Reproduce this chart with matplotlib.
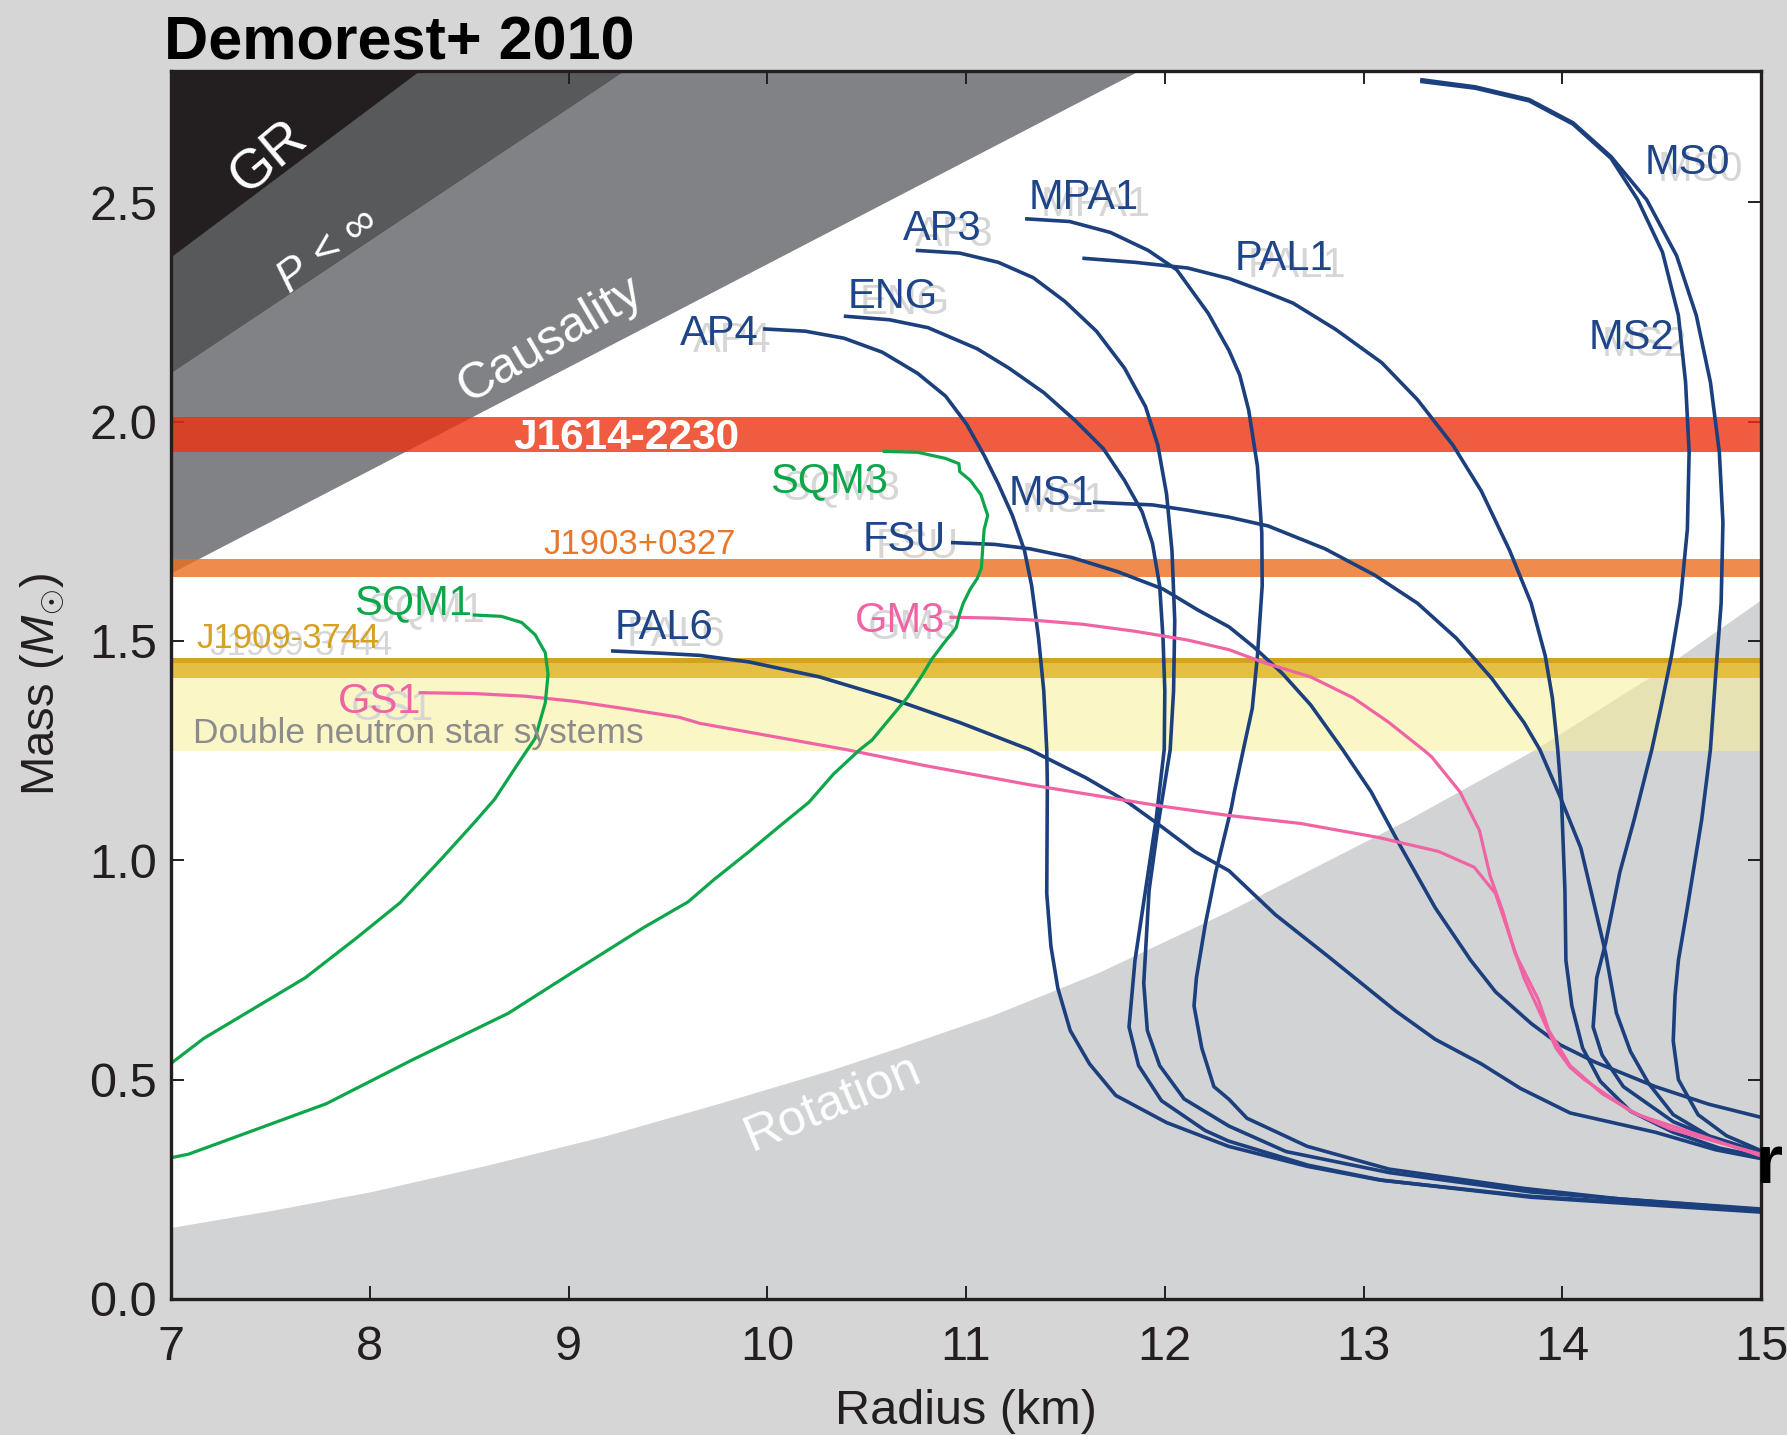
#!/usr/bin/env python3
"""
Mass-radius diagram (Demorest+ 2010) redrawn with matplotlib.

Usage:
  python3 plot.py   ->  out.png
"""

import matplotlib
matplotlib.use("Agg")
import matplotlib.pyplot as plt
from matplotlib import font_manager


# ── data: constraint regions ────────────────────────────────────────────────

GR_R = [7.0, 8.25]
GR_M = [2.376, 2.80]
BUCH_R = [7.0, 9.28]
BUCH_M = [2.112, 2.80]
CAUS_R = [7.0, 11.87]
CAUS_M = [1.655, 2.80]

ROT_R = [7.0, 7.52, 8.01, 8.59, 9.17, 9.75, 10.32, 10.66, 11.14, 11.67,
         12.32, 12.77, 13.22, 13.86, 14.47, 15.0]
ROT_M = [0.163, 0.203, 0.245, 0.305, 0.370, 0.445, 0.522, 0.573, 0.648, 0.745,
         0.884, 0.988, 1.092, 1.252, 1.426, 1.594]

# pulsar mass bands (lo, hi)
J1614_M = [1.931, 2.010]
J1903_M = [1.646, 1.687]
J1909_M = [1.416, 1.461]
J1909_EDGE_M = [1.450, 1.461]
DNS_M = [1.249, 1.416]

# ── data: mass-radius curves ────────────────────────────────────────────────

AP4_R = [9.988, 10.191, 10.386, 10.579, 10.756, 10.897, 11.003, 11.092, 11.162,
         11.233, 11.294, 11.330, 11.365, 11.391, 11.406, 11.409, 11.406, 11.427,
         11.462, 11.524, 11.621, 11.753, 12.009, 12.32, 12.72, 13.07, 13.84, 15.0]
AP4_M = [2.211, 2.206, 2.190, 2.158, 2.110, 2.058, 1.994, 1.922, 1.858,
         1.786, 1.706, 1.626, 1.506, 1.386, 1.252, 1.172, 0.924, 0.804,
         0.708, 0.612, 0.536, 0.464, 0.402, 0.348, 0.302, 0.272, 0.232, 0.198]

ENG_R = [10.394, 10.615, 10.809, 11.056, 11.215, 11.391, 11.550, 11.691, 11.797,
         11.886, 11.938, 11.974, 11.991, 12.000, 11.997, 11.956, 11.903, 11.850,
         11.820, 11.868, 11.983, 12.203, 12.32, 12.72, 13.1, 13.84, 15.0]
ENG_M = [2.240, 2.232, 2.214, 2.166, 2.122, 2.066, 2.002, 1.938, 1.866,
         1.794, 1.722, 1.626, 1.506, 1.386, 1.252, 1.092, 0.932, 0.772,
         0.620, 0.532, 0.452, 0.384, 0.360, 0.305, 0.270, 0.234, 0.201]

AP3_R = [10.756, 10.968, 11.162, 11.338, 11.497, 11.656, 11.797, 11.903, 11.965,
         12.009, 12.036, 12.050, 12.044, 12.027, 11.970, 11.921, 11.894, 11.912,
         11.974, 12.097, 12.323, 12.61, 13.13, 13.84, 15.0]
AP3_M = [2.390, 2.384, 2.363, 2.328, 2.274, 2.206, 2.122, 2.034, 1.946,
         1.834, 1.706, 1.546, 1.386, 1.252, 1.092, 0.932, 0.720, 0.612,
         0.532, 0.456, 0.394, 0.336, 0.288, 0.244, 0.203]

MPA1_R = [11.306, 11.521, 11.727, 11.917, 12.060, 12.218, 12.323, 12.377, 12.422,
          12.466, 12.488, 12.490, 12.466, 12.440, 12.395, 12.350, 12.335, 12.256,
          12.203, 12.159, 12.147, 12.186, 12.247, 12.323, 12.413, 12.716, 13.128,
          13.807, 14.289, 15.0]
MPA1_M = [2.462, 2.456, 2.431, 2.390, 2.346, 2.247, 2.162, 2.106, 2.026,
          1.898, 1.746, 1.626, 1.466, 1.346, 1.252, 1.156, 1.120, 0.972,
          0.852, 0.732, 0.668, 0.572, 0.484, 0.455, 0.412, 0.348, 0.296,
          0.252, 0.228, 0.205]

PAL1_R = [11.594, 11.850, 12.115, 12.323, 12.395, 12.502, 12.645, 12.860, 13.092,
          13.271, 13.450, 13.592, 13.735, 13.843, 13.914, 13.950, 13.977, 13.995,
          14.013, 14.018, 14.048, 14.102, 14.191, 14.343, 14.557, 14.790, 15.0]
PAL1_M = [2.372, 2.363, 2.350, 2.326, 2.314, 2.296, 2.270, 2.210, 2.134,
          2.050, 1.946, 1.842, 1.706, 1.586, 1.466, 1.370, 1.252, 1.148,
          0.932, 0.772, 0.668, 0.572, 0.496, 0.428, 0.380, 0.344, 0.324]

MS0_R = [13.294, 13.561, 13.833, 14.054, 14.245, 14.424, 14.575, 14.674, 14.745,
         14.790, 14.808, 14.799, 14.772, 14.745, 14.701, 14.629, 14.584, 14.567,
         14.558, 14.584, 14.683, 14.826, 15.0]
MS0_M = [2.779, 2.763, 2.734, 2.681, 2.604, 2.506, 2.378, 2.242, 2.090,
         1.930, 1.770, 1.586, 1.426, 1.252, 1.092, 0.892, 0.772, 0.692,
         0.588, 0.500, 0.420, 0.372, 0.338]

MS2_R = [13.294, 13.561, 13.833, 14.054, 14.245, 14.379, 14.504, 14.584, 14.620,
         14.638, 14.629, 14.593, 14.549, 14.495, 14.450, 14.361, 14.289, 14.218,
         14.173, 14.155, 14.200, 14.307, 14.558, 14.772, 15.0]
MS2_M = [2.775, 2.760, 2.731, 2.678, 2.600, 2.506, 2.386, 2.242, 2.090,
         1.930, 1.754, 1.586, 1.466, 1.346, 1.252, 1.092, 0.972, 0.812,
         0.732, 0.620, 0.556, 0.484, 0.404, 0.364, 0.330]

MS1_R = [11.647, 11.938, 12.115, 12.323, 12.520, 12.806, 13.056, 13.271, 13.467,
         13.646, 13.807, 13.887, 13.986, 14.093, 14.164, 14.218, 14.272, 14.343,
         14.433, 14.558, 14.736, 15.0]
MS1_M = [1.816, 1.810, 1.798, 1.782, 1.762, 1.710, 1.650, 1.586, 1.506,
         1.414, 1.314, 1.252, 1.148, 1.028, 0.892, 0.788, 0.652, 0.564,
         0.492, 0.420, 0.372, 0.334]

FSU_R = [10.933, 11.144, 11.321, 11.533, 11.762, 11.992, 12.168, 12.323, 12.448,
         12.591, 12.734, 12.895, 13.038, 13.181, 13.360, 13.539, 13.664, 13.843,
         13.986, 14.164, 14.468, 14.736, 15.0]
FSU_M = [1.724, 1.720, 1.710, 1.690, 1.658, 1.618, 1.570, 1.532, 1.486,
         1.426, 1.354, 1.252, 1.156, 1.036, 0.892, 0.772, 0.700, 0.628,
         0.580, 0.540, 0.484, 0.444, 0.414]

PAL6_R = [9.223, 9.461, 9.662, 9.909, 10.262, 10.615, 10.968, 11.321, 11.603,
          11.815, 11.974, 12.150, 12.323, 12.556, 12.824, 13.163, 13.360, 13.592,
          13.789, 14.039, 14.468, 14.772, 15.0]
PAL6_M = [1.477, 1.472, 1.467, 1.452, 1.418, 1.370, 1.314, 1.252, 1.188,
          1.132, 1.080, 1.020, 0.976, 0.876, 0.780, 0.656, 0.592, 0.536,
          0.480, 0.424, 0.380, 0.340, 0.320]

GS1_R = [8.254, 8.526, 8.781, 9.036, 9.291, 9.556, 9.662, 10.40, 10.791,
         11.321, 11.974, 12.323, 12.681, 13.074, 13.378, 13.557, 13.664, 13.735,
         13.807, 13.896, 13.968, 14.039, 14.111, 14.343, 14.540, 15.0]
GS1_M = [1.382, 1.380, 1.374, 1.362, 1.345, 1.326, 1.312, 1.252, 1.216,
         1.172, 1.124, 1.102, 1.084, 1.052, 1.020, 0.984, 0.924, 0.828,
         0.732, 0.644, 0.572, 0.528, 0.500, 0.428, 0.388, 0.330]

GM3_R = [10.924, 11.144, 11.321, 11.586, 11.850, 12.115, 12.323, 12.502, 12.734,
         12.949, 13.128, 13.30, 13.342, 13.485, 13.583, 13.637, 13.700, 13.762,
         13.878, 13.932, 14.039, 14.200, 14.379, 14.647, 15.0]
GM3_M = [1.554, 1.552, 1.548, 1.538, 1.522, 1.502, 1.480, 1.450, 1.418,
         1.370, 1.314, 1.252, 1.236, 1.156, 1.068, 0.964, 0.884, 0.788,
         0.684, 0.612, 0.532, 0.468, 0.420, 0.380, 0.326]

SQM3_R = [10.588, 10.756, 10.897, 10.964, 10.968, 11.021, 11.074, 11.109, 11.091,
          11.083, 11.077, 11.056, 11.021, 10.986, 10.968, 10.950, 10.880, 10.827,
          10.774, 10.703, 10.615, 10.527, 10.465, 10.332, 10.209, 10.068, 9.909,
          9.732, 9.601, 9.376, 9.036, 8.696, 8.214, 7.781, 7.088, 7.0]
SQM3_M = [1.932, 1.930, 1.916, 1.904, 1.886, 1.866, 1.834, 1.786, 1.754,
          1.706, 1.666, 1.642, 1.618, 1.586, 1.562, 1.530, 1.490, 1.458,
          1.418, 1.370, 1.322, 1.274, 1.252, 1.196, 1.132, 1.080, 1.020,
          0.956, 0.905, 0.846, 0.749, 0.651, 0.545, 0.445, 0.330, 0.322]

SQM1_R = [8.526, 8.662, 8.764, 8.832, 8.883, 8.897, 8.883, 8.832, 8.747,
          8.628, 8.526, 8.356, 8.152, 7.931, 7.675, 7.420, 7.165, 7.0]
SQM1_M = [1.559, 1.556, 1.542, 1.514, 1.473, 1.424, 1.359, 1.278, 1.221,
          1.139, 1.086, 1.001, 0.903, 0.822, 0.732, 0.663, 0.594, 0.537]

# ── labels ──────────────────────────────────────────────────────────────────

NAVY_LABELS = ["MS0", "MPA1", "AP3", "PAL1", "ENG", "AP4", "MS2", "MS1", "FSU", "PAL6"]
NAVY_LABEL_R = [14.63, 11.59, 10.88, 12.60, 10.63, 9.76, 14.35, 11.43, 10.69, 9.48]
NAVY_LABEL_M = [2.59, 2.51, 2.44, 2.37, 2.285, 2.20, 2.19, 1.835, 1.73, 1.53]

GREEN_LABELS = ["SQM3", "SQM1"]
GREEN_LABEL_R = [10.31, 8.22]
GREEN_LABEL_M = [1.865, 1.585]

PINK_LABELS = ["GM3", "GS1"]
PINK_LABEL_R = [10.67, 8.05]
PINK_LABEL_M = [1.545, 1.36]


# ── style ───────────────────────────────────────────────────────────────────

_names = {f.name for f in font_manager.fontManager.ttflist}
SANS = "Liberation Sans" if "Liberation Sans" in _names else "DejaVu Sans"

plt.rcParams.update({
    "font.family": [SANS, "DejaVu Sans"],
    "mathtext.fontset": "custom",
    "mathtext.rm": SANS,
    "mathtext.it": SANS + ":italic",
    "mathtext.bf": SANS + ":bold",
})

NAVY = "#1c3f7e"
NAVY_TXT = "#1f4589"
GREEN = "#0ea64a"
PINK = "#f064a4"
GHOST = "#d6d6d6"
DARK = "#231f20"


def curve_label(ax, r, m, s, color, size=30, ghost=True):
    # the original figure shows a faint misregistered grey copy of each label
    if ghost:
        ax.annotate(s, (r, m), xytext=(9, -5), textcoords="offset points",
                    color=GHOST, fontsize=size, ha="center", va="center", zorder=5)
    ax.text(r, m, s, color=color, fontsize=size, ha="center", va="center", zorder=7)


def main() -> None:
    fig = plt.figure(figsize=(17.87, 14.35), dpi=100, facecolor="#d6d6d6")
    ax = fig.add_axes([0.0957, 0.0948, 0.8898, 0.8560])
    ax.set_facecolor("white")
    ax.set_xlim(7, 15)
    ax.set_ylim(0, 2.8)

    # constraint regions
    ax.fill_between(ROT_R, 0, ROT_M, color="#d1d3d4", lw=0, zorder=1)
    ax.fill_between(CAUS_R, CAUS_M, 2.8, color="#808285", lw=0, zorder=1.1)
    ax.fill_between(BUCH_R, BUCH_M, 2.8, color="#58595b", lw=0, zorder=1.2)
    ax.fill_between(GR_R, GR_M, 2.8, color=DARK, lw=0, zorder=1.3)

    # mass bands
    ax.axhspan(*DNS_M, color="#f9ef98", alpha=0.55, lw=0, zorder=2)
    ax.axhspan(*J1909_M, color="#e3c044", lw=0, zorder=2.1)
    ax.axhspan(*J1909_EDGE_M, color="#d5a122", lw=0, zorder=2.2)
    ax.axhspan(*J1903_M, color="#eb7021", alpha=0.8, lw=0, zorder=2.1)
    ax.axhspan(*J1614_M, color="#ec3310", alpha=0.8, lw=0, zorder=2.1)

    # region labels
    ax.text(7.49, 2.60, "GR", color="white", fontsize=40, rotation=40,
            ha="center", va="center", rotation_mode="anchor", zorder=3)
    ax.text(7.79, 2.39, r"$P\,<\,\infty$", color="white", fontsize=32, rotation=37,
            ha="center", va="center", rotation_mode="anchor", zorder=3)
    ax.text(8.91, 2.185, "Causality", color="white", fontsize=36, rotation=30.5,
            ha="center", va="center", rotation_mode="anchor", zorder=3)
    ax.text(10.33, 0.445, "Rotation", color="white", fontsize=36, rotation=22.5,
            ha="center", va="center", rotation_mode="anchor", zorder=3)

    # band labels
    ax.text(9.29, 1.962, "J1614-2230", color="white", fontsize=30.5,
            fontweight="bold", ha="center", va="center", zorder=7)
    curve_label(ax, 9.36, 1.72, "J1903+0327", "#e8772c", size=25, ghost=False)
    curve_label(ax, 7.59, 1.505, "J1909-3744", "#d6a021", size=25)
    ax.text(8.245, 1.29, "Double neutron star systems", color="#8c8c8c",
            fontsize=25.5, ha="center", va="center", zorder=7)

    # mass-radius curves
    navy_curves = [(AP4_R, AP4_M), (ENG_R, ENG_M), (AP3_R, AP3_M), (MPA1_R, MPA1_M),
                   (PAL1_R, PAL1_M), (MS0_R, MS0_M), (MS2_R, MS2_M), (MS1_R, MS1_M),
                   (FSU_R, FSU_M), (PAL6_R, PAL6_M)]
    for r, m in navy_curves:
        ax.plot(r, m, color=NAVY, lw=2.6, zorder=6, solid_joinstyle="round")
    for r, m in [(GS1_R, GS1_M), (GM3_R, GM3_M)]:
        ax.plot(r, m, color=PINK, lw=2.3, zorder=6, solid_joinstyle="round")
    for r, m in [(SQM3_R, SQM3_M), (SQM1_R, SQM1_M)]:
        ax.plot(r, m, color=GREEN, lw=2.3, zorder=6, solid_joinstyle="round")

    for s, r, m in zip(NAVY_LABELS, NAVY_LABEL_R, NAVY_LABEL_M):
        curve_label(ax, r, m, s, NAVY_TXT)
    for s, r, m in zip(GREEN_LABELS, GREEN_LABEL_R, GREEN_LABEL_M):
        curve_label(ax, r, m, s, GREEN)
    for s, r, m in zip(PINK_LABELS, PINK_LABEL_R, PINK_LABEL_M):
        curve_label(ax, r, m, s, PINK)

    # axes
    ax.set_xticks(range(7, 16))
    ax.set_yticks([0.0, 0.5, 1.0, 1.5, 2.0, 2.5])
    ax.set_yticklabels(["0.0", "0.5", "1.0", "1.5", "2.0", "2.5"])
    ax.tick_params(direction="in", length=9.5, width=1.4, color=DARK,
                   top=True, right=True, labelsize=35, labelcolor=DARK)
    ax.tick_params(axis="x", pad=19)
    ax.tick_params(axis="y", pad=10)
    for sp in ax.spines.values():
        sp.set_linewidth(2.4)
        sp.set_color(DARK)
        sp.set_zorder(10)

    ax.set_xlabel("Radius (km)", fontsize=35, color=DARK)
    ax.set_ylabel(r"Mass ($M_{\odot}$)", fontsize=34, color=DARK)
    ax.xaxis.set_label_coords(0.5, -0.073)
    ax.yaxis.set_label_coords(-0.066, 0.5)

    fig.text(164 / 1787, 1 - 59 / 1435, "Demorest+ 2010", fontsize=44,
             fontweight="bold", ha="left", va="baseline")
    fig.text(1755 / 1787, 1 - 1183 / 1435, "r", fontsize=50,
             fontweight="bold", ha="left", va="baseline")

    fig.savefig("out.png", dpi=100, facecolor=fig.get_facecolor())
    plt.close(fig)


if __name__ == "__main__":
    main()
